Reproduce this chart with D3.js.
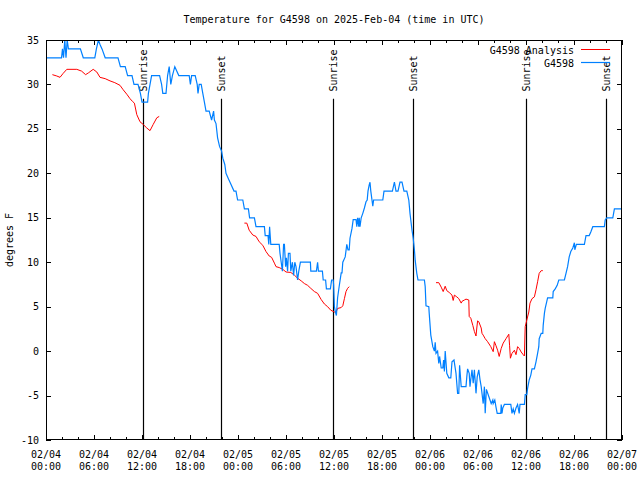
<!DOCTYPE html>
<html><head><meta charset="utf-8">
<script src="https://cdn.jsdelivr.net/npm/d3@7"></script>
<style>
body{margin:0;background:#fff}
svg{display:block}
text{font-family:"DejaVu Sans Mono",monospace;font-size:10px;fill:#000}
</style>
</head><body><svg id="c" width="640" height="480"></svg>
<script>
const chartTitle = "Temperature for G4598 on 2025-Feb-04 (time in UTC)";
const yLabel = "degrees F";
const startTime = "2025-02-04T00:00:00Z";
const endTime = "2025-02-07T00:00:00Z";
const yTicks = [-10,-5,0,5,10,15,20,25,30,35];
const seriesNames = ["G4598 Analysis","G4598"];
const seriesColors = ["#ff0000","#0080ff"];

// observed station (hours since start, degrees F)
const obsHours = [0,1.94,2.06,2.19,2.35,2.5,2.65,2.8,3.2,4.3,4.66,6.1,6.3,6.55,6.75,7.0,7.4,9.0,9.3,9.9,10.2,10.75,11.0,11.5,11.8,12.0,12.7,12.8,13.2,14.2,14.45,14.6,15.0,15.2,15.4,15.6,15.8,16.1,16.6,17.9,18.05,18.2,18.65,18.9,19.0,19.15,19.4,19.6,19.8,20.0,20.4,20.7,20.95,21.05,21.25,21.45,21.7,21.95,22.1,22.35,22.5,22.8,23.0,23.5,23.75,23.95,24.6,24.8,25.3,25.45,26.05,26.25,27.3,27.4,27.75,27.85,27.95,28.1,29.15,29.25,29.4,29.55,29.7,29.8,29.95,30.05,30.2,30.3,30.5,30.6,30.8,30.95,31.1,31.25,31.45,31.6,31.8,33.05,33.1,33.8,33.95,34.05,34.55,34.65,34.95,35.05,35.55,35.7,35.9,35.95,36.05,36.2,36.3,36.45,36.65,36.9,37.0,37.1,37.4,37.6,37.75,37.9,38.0,38.25,38.4,38.75,38.85,38.95,39.1,39.15,39.25,39.4,39.6,39.8,40.0,40.15,40.25,40.4,40.5,40.6,40.85,40.95,42.1,42.25,43.3,43.55,43.75,44.0,44.25,44.5,44.75,45.1,45.35,45.5,45.75,45.9,46.05,46.15,46.35,46.5,47.3,47.4,47.5,47.85,47.9,48.1,48.35,48.55,48.65,48.75,48.95,49.1,49.2,49.4,49.6,49.7,49.8,49.9,50.1,50.35,50.6,50.75,51.0,51.1,51.25,51.45,51.6,51.7,51.9,52.5,52.6,52.7,52.9,53.0,53.1,53.25,53.4,53.55,53.75,53.9,54.1,54.25,54.4,54.5,54.65,54.8,54.9,55.05,55.35,55.5,55.65,55.85,55.9,56.1,56.25,56.4,56.85,56.9,57.0,57.1,57.3,58.1,58.25,58.4,58.55,58.75,58.95,59.15,59.25,59.8,59.9,60.1,60.2,60.4,60.6,60.75,61.05,61.25,61.45,61.6,61.65,61.9,62.1,62.15,62.3,62.4,62.6,62.7,63.35,63.4,63.65,63.9,64.1,64.8,65.0,65.2,65.4,65.6,65.85,66.05,66.1,66.3,67.3,67.5,67.9,68.1,68.35,69.8,69.9,70.1,70.85,71.05,72];
const obsTemps = [33,33,34,33,35,33,35,34,34,34,33,33,34,35,34.5,34,33,33,32,32,31,31,30,30,29,28,28,29,31,31,30,29,29,31,32,30,31,32,31,31,30,31,31,30,29,30,30,29,28,27,27,26,27,26,25.6,24,23,22.5,21.7,21,20,19.4,19,18,18,17,17,16,16,15,15,14,14,13,13,12,14,12,12,11,10,9,12,12,9.5,10.5,9,11,11,9,10,8.5,10,9.5,8,9,10,10,9,9,10,9,9,8,8,7,7,8,8,7.5,5,4.3,4,6,7.3,8.8,8.8,10,10.6,12,11.4,11.4,12.7,13.8,14.8,14.8,14,15,14,15,14,15,15.5,16.1,16.8,17,18,18.7,19,18,16.3,17,17,18,18,19,18,18,19,19,18,18,17,15.5,13.6,12.7,11.4,10.2,8.75,8,8,7.25,5.1,5,4.25,1.8,0.5,0,1,-0.25,0,-1.4,-0.6,-1.9,-1.9,-1,-2.3,0,-2.5,-3,-3,-1.2,-1,-1.6,-2.5,-4.75,-4.75,-1.6,-4,-4,-2.9,-2,-2.5,-4,-3.2,-2.1,-3.6,-2.1,-4.75,-2.9,-2.1,-3.2,-4,-4.75,-5.9,-4,-7,-4.3,-5.1,-5.5,-5.9,-5.5,-5.9,-5.5,-6.3,-7,-7,-6,-7,-6.4,-6,-6,-7,-6.5,-7,-6.4,-6,-7,-6,-6,-4.9,-4.9,-4.2,-3.25,-2.7,-2,-2,-1.2,-0.25,0.5,1.4,2,2,2.9,4.25,4.8,5.6,6,6,6.7,7,7.4,8,8,8.75,9.5,10.6,11.2,11.6,12.2,11.4,12,12,13,13,13.4,14,14,14.75,15,15,16,16];

// analysis series (null = gap)
const anaHours = [0.8,1.35,1.75,2.15,2.6,3.85,4.45,4.95,5.3,5.9,6.35,6.75,7.4,8.0,8.6,9.25,9.65,10.1,10.5,10.8,11.05,11.35,11.75,12.15,12.6,13.0,13.4,13.85,14.15,
  19,
  24.8,25.1,25.4,25.85,26.25,26.65,27.1,27.5,27.9,28.2,28.55,28.75,29.15,29.6,30.0,30.6,31.05,31.45,31.9,32.3,32.7,33.1,33.55,33.95,34.4,34.8,35.2,35.6,36.05,36.25,36.45,36.9,37.1,37.3,37.5,37.7,37.9,
  43,
  48.75,49.1,49.4,49.65,49.9,50.1,50.4,50.75,50.9,51.05,51.35,51.6,51.9,52.0,52.3,52.5,52.85,52.9,53.1,53.35,53.55,53.75,53.85,53.95,54.1,54.4,54.5,54.65,54.9,55.2,55.6,55.9,56.05,56.25,56.45,56.65,56.9,57.15,57.5,57.85,57.95,58.05,58.25,58.55,58.75,58.95,59.15,59.4,59.65,59.8,59.85,59.9,60.1,60.35,60.5,60.75,61.05,61.25,61.45,61.65,61.9,62.1];
const anaTemps = [31.1,30.95,30.8,31.25,31.7,31.7,31.5,31.1,31.3,31.7,31.4,30.8,30.65,30.4,30.2,29.9,29.4,28.9,28.4,28.1,27.9,26.6,25.8,25.5,25.1,24.8,25.5,26.25,26.4,
  null,
  14.4,14.4,13.6,13.06,12.9,12.3,11.9,11.2,10.7,10.55,9.9,9.5,9.4,9.2,8.9,8.85,8.55,8.2,7.9,7.6,7.4,7.06,6.7,6.5,5.8,5.3,5.0,4.6,4.4,4.4,4.8,4.9,5.1,5.9,6.7,7.06,7.25,
  null,
  7.7,7.7,7.2,6.7,7.3,6.8,6.6,6.3,5.7,6.3,6.1,5.9,5.4,5.6,5.75,5.85,5.75,3.9,3.7,2.9,2.2,1.7,2.6,3.4,3.3,2.6,2.0,1.8,1.4,1.06,0.5,-0.06,1.06,0.6,0.1,-0.6,0.3,0.9,1.4,1.9,0.6,-0.8,-0.25,0.1,-0.4,0.5,0.3,-0.1,-0.4,-0.55,1.25,2.75,3.5,4.4,5.4,5.9,6.1,6.9,7.8,8.75,9.05,9.05];

const sunLabels = ["Sunrise","Sunset","Sunrise","Sunset","Sunrise","Sunset"];
const sunTimes = ["2025-02-04T12:04Z","2025-02-04T21:55Z","2025-02-05T11:55Z","2025-02-05T21:55Z","2025-02-06T11:58Z","2025-02-06T21:58Z"];

const W = 640, H = 480;
const m = {left:46, right:622, top:40, bottom:440};
const t0 = new Date(startTime), t1 = new Date(endTime);
const hToDate = h => new Date(t0.getTime() + h*3600000);

const x = d3.scaleUtc().domain([t0, t1]).range([m.left, m.right]);
const y = d3.scaleLinear().domain([-10, 35]).range([m.bottom, m.top]);

const svg = d3.select("#c");
svg.append("rect").attr("width",W).attr("height",H).attr("fill","#fff");

const majorTicks = d3.utcHour.every(6).range(t0, new Date(t1.getTime()+1));
const minorTicks = d3.utcHour.every(2).range(t0, new Date(t1.getTime()+1)).filter(d => d.getUTCHours()%6 !== 0);

function tickAxis(axis, transform, ticks, size) {
  const g = svg.append("g").attr("transform", transform)
    .call(axis.tickValues(ticks).tickSize(-size).tickFormat(""));
  g.select(".domain").remove();
  g.selectAll("line").attr("stroke","#000").attr("shape-rendering","crispEdges");
  g.selectAll("text").remove();
  return g;
}
tickAxis(d3.axisBottom(x), `translate(0,${m.bottom})`, majorTicks, 5);
tickAxis(d3.axisBottom(x), `translate(0,${m.bottom})`, minorTicks, 3);
tickAxis(d3.axisTop(x), `translate(0,${m.top})`, majorTicks, 5);
tickAxis(d3.axisTop(x), `translate(0,${m.top})`, minorTicks, 3);
tickAxis(d3.axisLeft(y), `translate(${m.left},0)`, yTicks, 5);
tickAxis(d3.axisRight(y), `translate(${m.right},0)`, yTicks, 5);

// y tick labels
svg.append("g").selectAll("text").data(yTicks).join("text")
  .attr("x", m.left - 7).attr("y", d => y(d)).attr("dy","0.35em")
  .attr("text-anchor","end").text(d => d);

// x tick labels (two lines)
const fmtD = d3.utcFormat("%m/%d"), fmtT = d3.utcFormat("%H:%M");
const xl = svg.append("g").selectAll("g").data(majorTicks).join("g")
  .attr("transform", d => `translate(${x(d)},0)`);
xl.append("text").attr("y", 458).attr("text-anchor","middle").text(fmtD);
xl.append("text").attr("y", 470).attr("text-anchor","middle").text(fmtT);

// title, y label
svg.append("text").attr("x", (m.left+m.right)/2).attr("y", 23).attr("text-anchor","middle").text(chartTitle);
svg.append("text").attr("transform", `translate(13,${(m.top+m.bottom)/2}) rotate(-90)`)
  .attr("text-anchor","middle").text(yLabel);

// clip
svg.append("clipPath").attr("id","clip").append("rect")
  .attr("x", m.left).attr("y", m.top).attr("width", m.right-m.left).attr("height", m.bottom-m.top);

// sun lines
const sunG = svg.append("g");
sunTimes.forEach((s,i) => {
  const sx = Math.round(x(new Date(s))) + 0.5;
  sunG.append("line").attr("x1", sx).attr("x2", sx).attr("y1", y(28.4)).attr("y2", m.bottom)
    .attr("stroke","#000").attr("stroke-width",1.2);
  sunG.append("text").attr("transform", `translate(${sx+3.5},${y(29.2)}) rotate(-90)`)
    .attr("text-anchor","start").text(sunLabels[i]);
});

// series
const obs = obsHours.map((h,i) => ({t: hToDate(h), v: obsTemps[i]}));
const ana = anaHours.map((h,i) => ({t: hToDate(h), v: anaTemps[i]}));
const line = d3.line().defined(d => d.v != null).x(d => x(d.t)).y(d => y(d.v));

const plot = svg.append("g").attr("clip-path","url(#clip)");
plot.append("path").datum(ana).attr("d", line).attr("fill","none")
  .attr("stroke", seriesColors[0]).attr("stroke-width",1);
plot.append("path").datum(obs).attr("d", line).attr("fill","none")
  .attr("stroke", seriesColors[1]).attr("stroke-width",1.2);

// legend
const leg = svg.append("g");
seriesNames.forEach((n,i) => {
  const ly = 50 + i*13;
  leg.append("text").attr("x", 574).attr("y", ly).attr("dy","0.35em").attr("text-anchor","end").text(n);
  leg.append("line").attr("x1", 581).attr("x2", 610).attr("y1", ly-0.5).attr("y2", ly-0.5)
    .attr("stroke", seriesColors[i]).attr("stroke-width", i===0?1:1.2);
});

// frame
svg.append("rect").attr("x", m.left+0.5).attr("y", m.top+0.5)
  .attr("width", m.right-m.left-1).attr("height", m.bottom-m.top-1)
  .attr("fill","none").attr("stroke","#000").attr("stroke-width",1);
</script>
</body></html>
